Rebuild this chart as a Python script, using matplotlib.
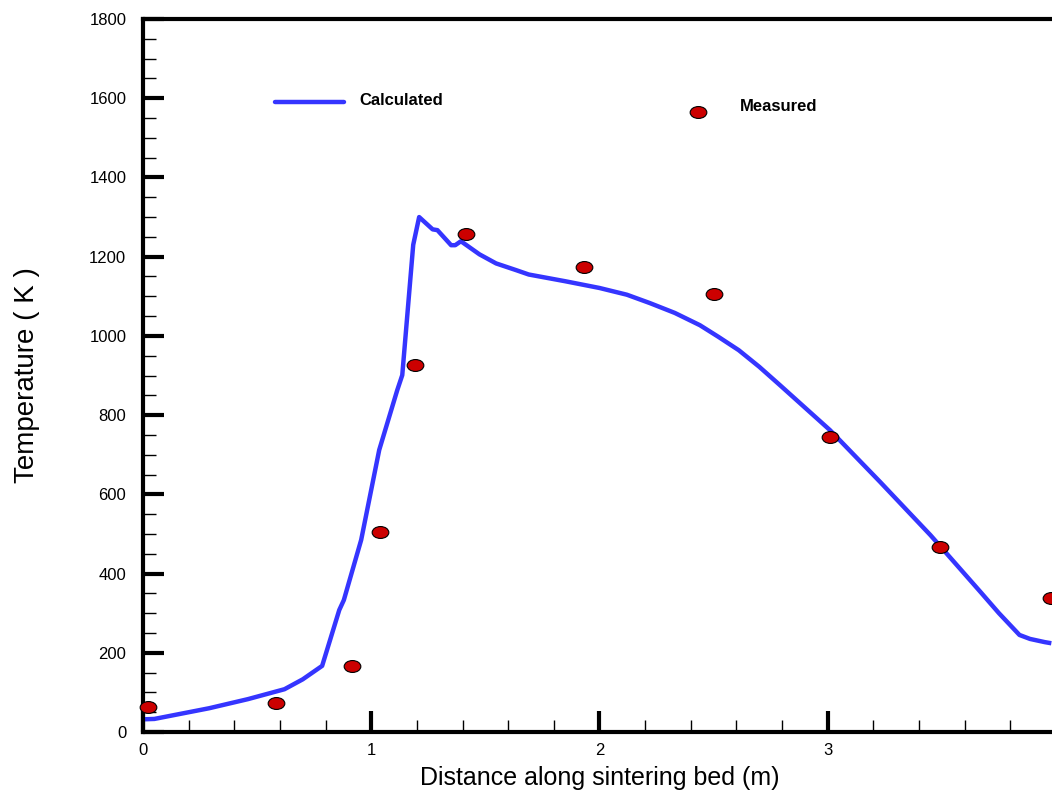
import matplotlib
matplotlib.use("Agg")
import matplotlib.pyplot as plt
from matplotlib.path import Path
from matplotlib.transforms import Affine2D
from matplotlib.ticker import MultipleLocator

# calculated bed temperature profile
calc_x = [0.00, 0.05, 0.29, 0.46, 0.62, 0.70, 0.785, 0.86, 0.88, 0.956, 1.035,
          1.114, 1.136, 1.184, 1.21, 1.269, 1.29, 1.35, 1.368, 1.393, 1.474,
          1.547, 1.635, 1.69, 1.85, 2.00, 2.12, 2.22, 2.33, 2.44, 2.52, 2.61,
          2.70, 2.79, 3.01, 3.23, 3.45, 3.67, 3.75, 3.84, 3.886, 3.95, 3.97]
calc_y = [32, 33, 60, 83, 108, 133, 167, 308, 333, 485, 712,
          863, 901, 1230, 1300, 1269, 1267, 1229, 1229, 1239, 1206,
          1183, 1166, 1155, 1138, 1121, 1104, 1083, 1058, 1027, 998, 964,
          922, 876, 762, 631, 497, 353, 300, 245, 235, 227, 225]

# measured points
meas_x = [0.02, 0.583, 0.917, 1.04, 1.19, 1.417, 1.93, 2.50, 3.01, 3.49, 3.98]
meas_y = [63, 73, 167, 505, 927, 1257, 1174, 1106, 745, 467, 338]

BLUE = "#3535ff"
RED = "#cc0000"
FONT = "Liberation Sans"

# ellipse marker like the original
ellipse = Affine2D().scale(1.4, 1.0).transform_path(Path.unit_circle())

fig = plt.figure(figsize=(10.52, 7.96), dpi=100)
ax = fig.add_axes([0.1359, 0.0804, 0.8679, 0.8957])

ax.plot(calc_x, calc_y, color=BLUE, lw=3.2, solid_joinstyle="round", zorder=2)
ax.plot(meas_x, meas_y, ls="none", marker=ellipse, ms=12, mfc=RED,
        mec="black", mew=0.8, zorder=3, clip_on=False)

ax.set_xlim(0, 4)
ax.set_ylim(0, 1800)

ax.xaxis.set_major_locator(MultipleLocator(1))
ax.xaxis.set_minor_locator(MultipleLocator(0.2))
ax.yaxis.set_major_locator(MultipleLocator(200))
ax.yaxis.set_minor_locator(MultipleLocator(50))

ax.tick_params(which="major", direction="in", length=15, width=3,
               labelsize=12, top=False, right=False)
ax.tick_params(axis="x", which="major", pad=8)
ax.tick_params(axis="y", which="major", pad=12)
ax.tick_params(which="minor", direction="in", length=9, width=1,
               top=False, right=False)
for lab in ax.get_xticklabels() + ax.get_yticklabels():
    lab.set_fontfamily(FONT)

for side in ["left", "bottom", "top", "right"]:
    ax.spines[side].set_linewidth(3)

ax.set_xlabel("Distance along sintering bed (m)", fontsize=18, family=FONT)
ax.set_ylabel("Temperature ( K )", fontsize=20, family=FONT)
ax.xaxis.set_label_coords(0.5, -0.047)
ax.yaxis.set_label_coords(-0.113, 0.5)

# hand-placed legend, as in the original
ax.plot([0.58, 0.88], [1591, 1591], color=BLUE, lw=3.2, solid_capstyle="round")
ax.text(0.95, 1595, "Calculated", fontsize=12, fontweight="bold", family=FONT,
        va="center", ha="left")
ax.plot([2.43], [1566], ls="none", marker=ellipse, ms=12, mfc=RED,
        mec="black", mew=0.8)
ax.text(2.615, 1578, "Measured", fontsize=12, fontweight="bold", family=FONT,
        va="center", ha="left")

fig.savefig("out.png", dpi=100)
